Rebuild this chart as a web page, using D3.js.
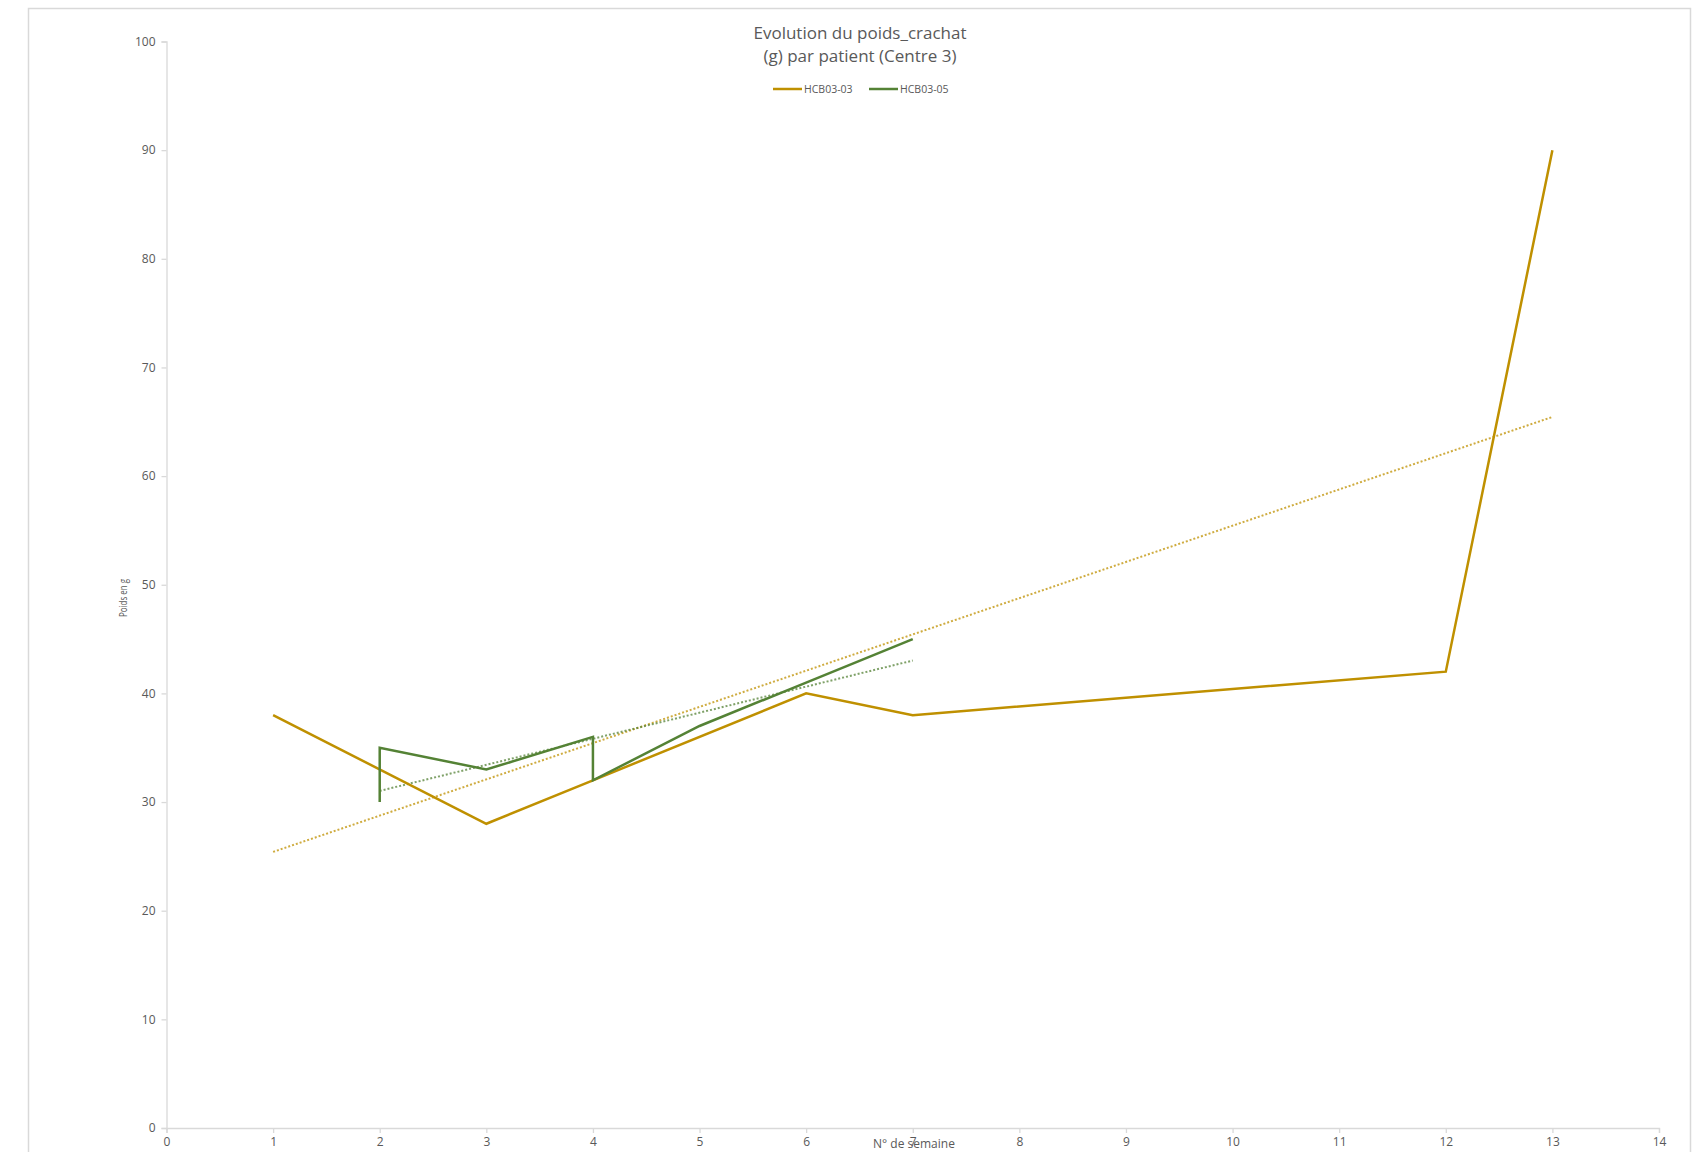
<!DOCTYPE html>
<html lang="fr">
<head>
	<meta charset="UTF-8"/>
	<title>Evolution du poids_crachat</title>
	<script src="https://d3js.org/d3.v7.min.js"></script>
	<style>
		body { margin: 0; background: #fff; }
		svg text { font-family: "Open Sans", "Noto Sans", sans-serif; fill: #595959; }
	</style>
</head>
<body>
	<div id="chart-container"></div>

	<script>
	// data
	var seriesNames = ["HCB03-03", "HCB03-05"];
	var seriesColors = ["#BF9000", "#548235"];
	var weeks03 = [1, 3, 4, 6, 7, 12, 13];
	var poids03 = [38, 28, 32, 40, 38, 42, 90];
	var weeks05 = [2, 2, 3, 4, 4, 5, 6, 7];
	var poids05 = [30, 35, 33, 36, 32, 37, 41, 45];
	var xTicks = [0, 1, 2, 3, 4, 5, 6, 7, 8, 9, 10, 11, 12, 13, 14];
	var yTicks = [0, 10, 20, 30, 40, 50, 60, 70, 80, 90, 100];

	var w = 1706;
	var h = 1152;
	var margin = {top: 41.5, right: 47, bottom: 24, left: 166.5};
	var plotW = 1659 - margin.left;
	var plotH = 1128 - margin.top;

	function linearFit(xs, ys) {
		var mx = d3.mean(xs), my = d3.mean(ys);
		var sxy = 0, sxx = 0;
		for (var i = 0; i < xs.length; i++) {
			sxy += (xs[i] - mx) * (ys[i] - my);
			sxx += (xs[i] - mx) * (xs[i] - mx);
		}
		var slope = sxy / sxx;
		var b = my - slope * mx;
		var x0 = d3.min(xs), x1 = d3.max(xs);
		return [[x0, slope * x0 + b], [x1, slope * x1 + b]];
	}

	var svg = d3.select("#chart-container")
		.append("svg")
		.attr("width", w)
		.attr("height", h);

	// chart area border
	svg.append("rect")
		.attr("x", 28.5)
		.attr("y", 8.5)
		.attr("width", 1662)
		.attr("height", 1160)
		.attr("fill", "none")
		.attr("stroke", "#D9D9D9")
		.attr("stroke-width", 1.5);

	var xScale = d3.scaleLinear().domain([0, 14]).range([0, plotW]);
	var yScale = d3.scaleLinear().domain([0, 100]).range([plotH, 0]);

	var g = svg.append("g")
		.attr("transform", "translate(" + margin.left + "," + margin.top + ")");

	g.append("g")
		.attr("transform", "translate(0," + plotH + ")")
		.call(d3.axisBottom(xScale).tickValues(xTicks).tickSize(5).tickPadding(4).tickFormat(d3.format("d")));

	g.append("g")
		.call(d3.axisLeft(yScale).tickValues(yTicks).tickSize(5).tickPadding(6).tickFormat(d3.format("d")));

	g.selectAll(".domain, .tick line").attr("stroke", "#D9D9D9").attr("stroke-width", 1.3);
	g.selectAll(".tick text").attr("font-size", "12px").attr("fill", "#595959");

	var line = d3.line()
		.x(function (d) { return xScale(d[0]); })
		.y(function (d) { return yScale(d[1]); });

	var series = [
		{name: seriesNames[0], color: seriesColors[0], pts: d3.zip(weeks03, poids03)},
		{name: seriesNames[1], color: seriesColors[1], pts: d3.zip(weeks05, poids05)}
	];

	// dotted linear trend lines
	series.forEach(function (s) {
		g.append("path")
			.datum(linearFit(s.pts.map(function (p) { return p[0]; }), s.pts.map(function (p) { return p[1]; })))
			.attr("d", line)
			.attr("fill", "none")
			.attr("stroke", s.color)
			.attr("stroke-width", 2)
			.attr("stroke-dasharray", "2,2")
			.attr("opacity", 0.75);
	});

	series.forEach(function (s) {
		g.append("path")
			.datum(s.pts)
			.attr("d", line)
			.attr("fill", "none")
			.attr("stroke", s.color)
			.attr("stroke-width", 2.5)
			.attr("stroke-linejoin", "miter");
	});

	// title
	var title = svg.append("text")
		.attr("text-anchor", "middle")
		.attr("font-size", "17px");
	title.append("tspan").attr("x", 860).attr("y", 39).text("Evolution du poids_crachat");
	title.append("tspan").attr("x", 860).attr("y", 62).text("(g) par patient (Centre 3)");

	// legend
	var legendX = [773, 869];
	series.forEach(function (s, i) {
		svg.append("line")
			.attr("x1", legendX[i]).attr("x2", legendX[i] + 29)
			.attr("y1", 89).attr("y2", 89)
			.attr("stroke", s.color)
			.attr("stroke-width", 2.5);
		svg.append("text")
			.attr("x", legendX[i] + 31)
			.attr("y", 92.5)
			.attr("font-size", "10.5px")
			.text(s.name);
	});

	// axis titles
	svg.append("text")
		.attr("x", 914)
		.attr("y", 1148)
		.attr("text-anchor", "middle")
		.attr("font-size", "12px")
		.text("N° de semaine");

	svg.append("text")
		.attr("transform", "translate(127,598) rotate(-90)")
		.attr("text-anchor", "middle")
		.attr("font-size", "11.5px")
		.attr("textLength", 38)
		.attr("lengthAdjust", "spacingAndGlyphs")
		.text("Poids en g");
	</script>
</body>
</html>
